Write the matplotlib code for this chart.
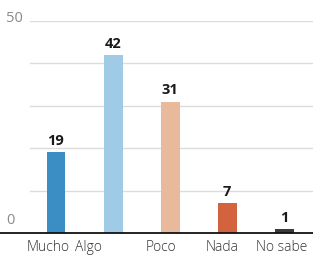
import matplotlib
matplotlib.use("Agg")
import matplotlib.pyplot as plt
import numpy as np

# data
categorias = ["Mucho", "Algo", "Poco", "Nada", "No sabe"]
valores = [19, 42, 31, 7, 1]
colores = ["#3b8ec4", "#a0cbe6", "#e9b99b", "#d3623f", "#3a3a3a"]
grid_vals = [10, 20, 30, 40, 50]
tick_vals = [0, 50]

plt.rcParams['font.family'] = ['Open Sans', 'DejaVu Sans']

fig = plt.figure(figsize=(3.13, 2.59), dpi=100)
ax = fig.add_axes([0, 26/259, 1, 212/259])

x = np.arange(len(categorias))
step = 57.1
ax.set_xlim(-56/step, (313-56)/step)
ax.set_ylim(0, 50)

for g in grid_vals:
    ax.axhline(g, xmin=30/313, color="#dcdcdc", lw=1, zorder=0)

bars = ax.bar(x, valores, width=0.33, color=colores, zorder=2)
ax.bar_label(bars, padding=3, fontsize=10.5, fontweight="bold", color="#1a1a1a")

# labels in the source sit a bit left of their bars
label_shift = [-6, -18, -6.5, -4, -2]
tick_lift = [9, 2]
for t, lift in zip(tick_vals, tick_lift):
    ax.annotate(str(t), xy=(6/313, t), xycoords=ax.get_yaxis_transform(),
                xytext=(0, lift), textcoords="offset points",
                fontsize=10.5, color="#8a8a8a", ha="left", va="center")

for xi, c, sh in zip(x, categorias, label_shift):
    ax.annotate(c, xy=(xi, 0), xytext=(sh, -5), textcoords="offset points",
                ha="center", va="top", fontsize=10, color="#333333",
                fontweight="light", annotation_clip=False)

for s in ["top", "left", "right"]:
    ax.spines[s].set_visible(False)
ax.spines["bottom"].set_color("#111111")
ax.spines["bottom"].set_linewidth(1.3)
ax.set_xticks([])
ax.set_yticks([])
ax.patch.set_alpha(0)

fig.savefig("out.png", dpi=100)
